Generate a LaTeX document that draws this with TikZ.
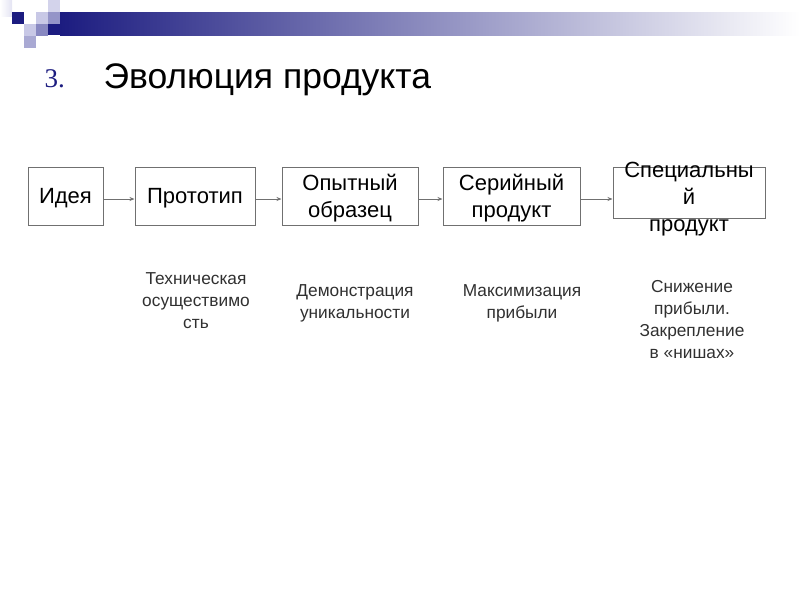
\documentclass[tikz,border=0pt]{standalone}
\usepackage{fontspec}
\setmainfont{Liberation Sans}
\newfontfamily\numfont{Liberation Serif}
\usetikzlibrary{arrows.meta}
\definecolor{navy}{HTML}{1C1C80}
\definecolor{lilac}{HTML}{C8C8E6}
\definecolor{midlilac}{HTML}{9494C8}
\definecolor{barmid}{HTML}{8080BC}
\definecolor{boxline}{HTML}{707070}
\definecolor{notetext}{HTML}{303030}
\begin{document}
\begin{tikzpicture}[x=1pt, y=-1pt,
  stagebox/.style={draw=boxline, line width=1pt, minimum height=58pt, inner sep=2pt,
    text depth=0pt, align=center, font=\fontsize{22}{27}\selectfont},
  note/.style={anchor=base, align=center, text=notetext, font=\fontsize{17.3}{22}\selectfont},
  arr/.style={draw=boxline, line width=0.8pt, -{Stealth[length=5pt,width=4pt]}}]
  \useasboundingbox (0,0) rectangle (800,600);
  % Corner squares
  \shade[left color=white, right color=lilac!50] (0,0) rectangle (12,16);
  \fill[lilac!80] (48,0) rectangle (60,12);
  \fill[navy] (12,12) rectangle (24,24);
  \fill[lilac] (36,12) rectangle (48,24);
  \fill[midlilac] (48,12) rectangle (60,24);
  \fill[lilac] (24,24) rectangle (36,36);
  \fill[midlilac!90!navy] (36,24) rectangle (48,36);
  \fill[navy] (48,24) rectangle (60,35);
  \fill[midlilac!80] (24,36) rectangle (36,48);
  % Top bar
  \shade[left color=navy, middle color=barmid, right color=white] (60,12) rectangle (800,35);
  % Title
  \node[anchor=base west, text=navy, font=\numfont\fontsize{27}{32}\selectfont] (num) at (41,87) {3.};
  \node[anchor=base west, font=\fontsize{35.5}{43}\selectfont] (title) at (100,88) {Эволюция продукта};
  % Stages
  \node[stagebox, minimum width=75pt] (idea) at (65.5,196) {Идея};
  \node[stagebox, minimum width=120pt] (proto) at (195,196) {Прототип};
  \node[stagebox, minimum width=136pt] (pilot) at (350,196) {Опытный\\образец};
  \node[stagebox, minimum width=137pt] (serial) at (511.5,196) {Серийный\\продукт};
  \node[stagebox, minimum width=152pt, minimum height=51pt] (special) at (689,192.5)
    {\smash{\raisebox{-12pt}{\begin{tabular}{@{}c@{}}Специальны\\й\\продукт\end{tabular}}}};
  % Arrows
  \draw[arr] ([yshift=-3pt]idea.east) -- ([yshift=-3pt]idea.east -| proto.west);
  \draw[arr] ([yshift=-3pt]proto.east) -- ([yshift=-3pt]proto.east -| pilot.west);
  \draw[arr] ([yshift=-3pt]pilot.east) -- ([yshift=-3pt]pilot.east -| serial.west);
  \draw[arr] ([yshift=-3pt]serial.east) -- ([yshift=-3pt]serial.east -| special.west);
  % Notes (anchored at the last line)
  \node[note] (feas) at (196,328) {Техническая\\осуществимо\\сть};
  \node[note] (demo) at (355,318) {Демонстрация\\уникальности};
  \node[note] (profit) at (522,318) {Максимизация\\прибыли};
  \node[note] (niche) at (692,358) {Снижение\\прибыли.\\Закрепление\\в «нишах»};
\end{tikzpicture}
\end{document}
